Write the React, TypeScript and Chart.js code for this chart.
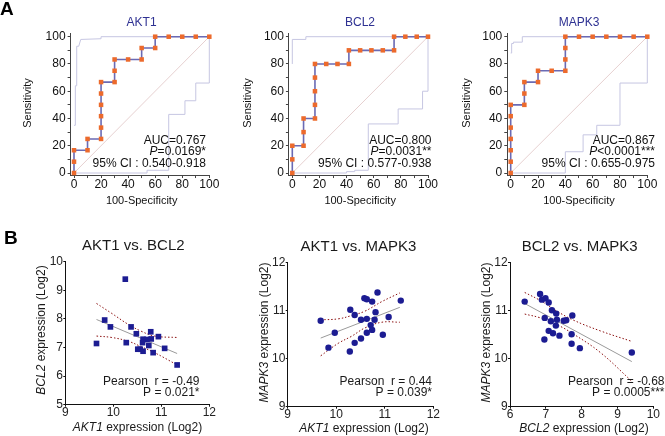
import React, { useEffect, useRef } from "react";
import { Chart, registerables } from "chart.js";

Chart.register(...registerables);

const FONT = '"Liberation Sans", Arial, sans-serif';

// ---------------- ROC data (100-Specificity, Sensitivity) ----------------
const ROC_TICKS = [0, 10, 20, 30, 40, 50, 60, 70, 80, 90, 100];
const DIAG_X = [0, 100];
const DIAG_Y = [0, 100];

const AKT1_ROC_X = [0, 0, 0, 10, 10, 20, 20, 20, 20, 20, 20, 30, 30, 30, 40, 50, 50, 60, 60, 70, 80, 90, 100];
const AKT1_ROC_Y = [0, 8.3, 16.7, 16.7, 25, 25, 33.3, 41.7, 50, 58.3, 66.7, 66.7, 75, 83.3, 83.3, 83.3, 91.7, 91.7, 100, 100, 100, 100, 100];
const AKT1_UP_X = [0, 1, 1, 2, 2, 3.5, 5, 20, 20, 100];
const AKT1_UP_Y = [35, 35, 64, 64, 93, 93, 98, 98.5, 100, 100];
const AKT1_LO_X = [0, 54, 54, 70, 70, 82, 82, 90, 90, 100, 100];
const AKT1_LO_Y = [0, 0, 2, 2, 43, 43, 53, 53, 66, 66, 100];

const BCL2_ROC_X = [0, 0, 0, 8.3, 8.3, 8.3, 16.7, 16.7, 16.7, 16.7, 16.7, 25, 33.3, 41.7, 41.7, 50, 58.3, 66.7, 75, 75, 83.3, 91.7, 100];
const BCL2_ROC_Y = [0, 10, 20, 20, 30, 40, 40, 50, 60, 70, 80, 80, 80, 80, 90, 90, 90, 90, 90, 100, 100, 100, 100];
const BCL2_UP_X = [0, 0, 10, 10, 100];
const BCL2_UP_Y = [80, 98, 98, 100, 100];
const BCL2_LO_X = [0, 40, 40, 46, 46, 56, 56, 78, 78, 96, 96, 100, 100];
const BCL2_LO_Y = [0, 0, 1, 1, 2, 2, 36, 36, 47, 47, 60, 60, 100];

const MAPK3_ROC_X = [0, 0, 0, 0, 0, 0, 0, 10, 10, 10, 20, 20, 30, 40, 40, 40, 40, 50, 60, 70, 80, 90, 100];
const MAPK3_ROC_Y = [0, 8.3, 16.7, 25, 33.3, 41.7, 50, 50, 58.3, 66.7, 66.7, 75, 75, 75, 83.3, 91.7, 100, 100, 100, 100, 100, 100, 100];
const MAPK3_UP_X = [0, 0.7, 0.7, 2, 2, 8.5, 8.5, 100];
const MAPK3_UP_Y = [88, 88, 95, 95, 96, 96, 100, 100];
const MAPK3_LO_X = [0, 40, 40, 53, 53, 63, 63, 80, 80, 100, 100];
const MAPK3_LO_Y = [0, 0, 15.6, 15.6, 28, 28, 35, 35, 66, 66, 100];

// ---------------- Correlation data ----------------
const B1_AKT1 = [10.25, 9.82, 9.94, 9.65, 10.27, 10.37, 10.48, 10.62, 10.70, 10.79, 10.78, 10.94, 10.61, 10.74, 10.51, 10.56, 10.62, 10.83, 11.07, 11.33];
const B1_BCL2 = [9.39, 7.96, 7.72, 7.14, 7.17, 7.72, 7.48, 7.29, 7.28, 7.30, 7.55, 7.38, 7.17, 7.07, 6.94, 6.94, 6.87, 6.82, 6.97, 6.39];
const B1_FIT_X = [9.65, 11.33];
const B1_FIT_Y = [7.98, 6.79];
const B1_CI_X = [9.65, 9.97, 10.31, 10.58, 10.86, 11.33];
const B1_CI_UP = [8.54, 8.19, 7.81, 7.57, 7.40, 7.35];
const B1_CI_LO = [7.40, 7.35, 7.22, 7.03, 6.82, 6.39];

const B2_AKT1 = [9.68, 9.97, 9.84, 10.28, 10.29, 10.38, 10.38, 10.51, 10.51, 10.58, 10.63, 10.63, 10.63, 10.74, 10.71, 10.74, 10.81, 10.79, 10.85, 10.96, 11.08, 11.33];
const B2_MAPK3 = [10.79, 10.54, 10.23, 10.15, 11.02, 10.91, 10.33, 10.42, 10.81, 11.26, 11.24, 10.83, 10.54, 11.19, 10.70, 10.60, 10.97, 10.81, 11.38, 10.50, 10.87, 11.21];
const B2_FIT_X = [9.68, 11.31];
const B2_FIT_Y = [10.43, 11.07];
const B2_CI_X = [9.68, 10.04, 10.32, 10.59, 10.94, 11.31];
const B2_CI_UP = [10.81, 10.83, 10.90, 10.99, 11.19, 11.37];
const B2_CI_LO = [10.06, 10.32, 10.47, 10.64, 10.76, 10.76];

const B3_BCL2 = [6.41, 6.84, 6.89, 6.99, 7.08, 7.17, 7.29, 6.97, 7.14, 7.31, 7.28, 7.50, 7.57, 7.74, 7.08, 7.20, 7.38, 6.96, 7.72, 7.72, 7.95, 9.40];
const B3_MAPK3 = [11.19, 11.35, 11.23, 11.26, 11.17, 11.01, 10.94, 10.85, 10.78, 10.81, 10.69, 10.79, 10.80, 10.90, 10.58, 10.53, 10.48, 10.40, 10.51, 10.31, 10.22, 10.13];
const B3_FIT_X = [6.41, 9.40];
const B3_FIT_Y = [11.15, 9.94];
const B3_CI_X = [6.41, 6.85, 7.31, 7.78, 8.52, 9.40];
const B3_CI_UP = [11.38, 11.21, 10.99, 10.80, 10.58, 10.36];
const B3_CI_LO = [10.93, 10.85, 10.71, 10.51, 10.13, 9.53];

// ---------------- helpers ----------------
type Seg = { t: string; i?: boolean };
type TItem = { segs: Seg[]; x: number; y: number; align?: "left" | "center" | "right"; size: number; bold?: boolean; color?: string; rot?: boolean };
type Box = { left: number; top: number; width: number; height: number };
type Area = { left: number; top: number; right: number; bottom: number };

const toXY = (xs: number[], ys: number[]) => xs.map((x, i) => ({ x, y: ys[i] }));

const textPlugin = {
  id: "panelText",
  afterDraw(chart: any, _a: any, opts: any) {
    const ctx = chart.ctx as CanvasRenderingContext2D;
    const items: TItem[] = opts.items || [];
    for (const it of items) {
      ctx.save();
      const font = (ital?: boolean) => `${ital ? "italic " : ""}${it.bold ? "bold " : ""}${it.size}px ${FONT}`;
      let total = 0;
      const widths = it.segs.map((s) => {
        ctx.font = font(s.i);
        const w = ctx.measureText(s.t).width;
        total += w;
        return w;
      });
      ctx.translate(it.x - opts.ox, it.y - opts.oy);
      if (it.rot) ctx.rotate(-Math.PI / 2);
      let start = it.align === "left" ? 0 : it.align === "right" ? -total : -total / 2;
      ctx.textBaseline = "middle";
      ctx.textAlign = "left";
      ctx.fillStyle = it.color || "#111";
      it.segs.forEach((s, k) => {
        ctx.font = font(s.i);
        ctx.fillText(s.t, start, 0);
        start += widths[k];
      });
      ctx.restore();
    }
  },
};

function buildConfig(box: Box, area: Area, datasets: any[], xScale: any, yScale: any, texts: TItem[]) {
  const yW = area.left - box.left;
  const xH = box.top + box.height - area.bottom;
  return {
    type: "scatter" as const,
    data: { datasets },
    options: {
      animation: false as const,
      responsive: false,
      devicePixelRatio: 1,
      events: [] as any[],
      layout: {
        padding: {
          left: 0,
          top: area.top - box.top,
          right: box.left + box.width - area.right,
          bottom: 0,
        },
      },
      plugins: {
        legend: { display: false },
        tooltip: { enabled: false },
        panelText: { items: texts, ox: box.left, oy: box.top },
      },
      scales: {
        x: { ...xScale, afterFit: (s: any) => { s.height = xH; } },
        y: { ...yScale, afterFit: (s: any) => { s.width = yW; } },
      },
    },
    plugins: [textPlugin],
  };
}

// ---------------- ROC panels ----------------
const ROC_Y0 = 173;
const ROC_Y100 = 36.7;
const RX_MIN = -2.5;
const RY_MIN = -1.5;
const RY_MAX = 102.5;

function rocArea(x0: number, x100: number): Area {
  const ux = (x100 - x0) / 100;
  const uy = (ROC_Y0 - ROC_Y100) / 100;
  return { left: x0 + RX_MIN * ux, right: x100, top: ROC_Y100 - (RY_MAX - 100) * uy, bottom: ROC_Y0 - RY_MIN * uy };
}

function rocScale(min: number, max: number, pad: number) {
  return {
    type: "linear",
    min,
    max,
    bounds: "data",
    afterBuildTicks: (axis: any) => { axis.ticks = ROC_TICKS.map((v) => ({ value: v })); },
    ticks: {
      autoSkip: false,
      maxRotation: 0,
      padding: pad,
      color: "#111",
      font: { family: FONT, size: 12 },
      callback: (v: any) => (Number(v) % 20 === 0 ? String(v) : ""),
    },
    grid: { drawOnChartArea: false, drawTicks: true, tickLength: 3, color: "#444" },
    border: { display: true, color: "#444", width: 1 },
  };
}

function rocPanel(box: Box, x0: number, x100: number, title: string, rx: number[], ry: number[], ux: number[], uy: number[], lx: number[], ly: number[], auc: string, pSegs: Seg[], ci: string, titleX: number, sensX: number, annRight: number, extra: TItem[]) {
  const area = rocArea(x0, x100);
  const cx = (x0 + x100) / 2;
  const datasets = [
    { data: toXY(rx, ry), showLine: true, borderColor: "#6a6ab4", borderWidth: 1.6, pointStyle: "rect", pointRadius: 3.2, pointBackgroundColor: "#ec6a2c", pointBorderColor: "#ec6a2c", pointBorderWidth: 0, clip: false, order: 0 },
    { data: toXY(ux, uy), showLine: true, borderColor: "#c6c6e2", borderWidth: 1, pointRadius: 0, clip: false, order: 2 },
    { data: toXY(lx, ly), showLine: true, borderColor: "#c6c6e2", borderWidth: 1, pointRadius: 0, clip: false, order: 2 },
    { data: toXY(DIAG_X, DIAG_Y), showLine: true, borderColor: "#e6d0d0", borderWidth: 1, pointRadius: 0, clip: false, order: 3 },
  ];
  const texts: TItem[] = [
    ...extra,
    { segs: [{ t: title }], x: titleX, y: 22.5, size: 12, color: "#2e3192" },
    { segs: [{ t: "Sensitivity" }], x: sensX, y: 103, size: 11, rot: true },
    { segs: [{ t: "100-Specificity" }], x: cx, y: 201, size: 11 },
    { segs: [{ t: auc }], x: annRight, y: 140.5, size: 12, align: "right" },
    { segs: pSegs, x: annRight, y: 152, size: 12, align: "right" },
    { segs: [{ t: ci }], x: annRight, y: 164, size: 12, align: "right" },
  ];
  return { box, config: () => buildConfig(box, area, datasets, rocScale(RX_MIN, 100, -0.7), rocScale(RY_MIN, RY_MAX, 2), texts) };
}

// ---------------- correlation panels ----------------
function scatScale(min: number, max: number, pad: number) {
  return {
    type: "linear",
    min,
    max,
    bounds: "data",
    ticks: { stepSize: 1, autoSkip: false, maxRotation: 0, padding: pad, color: "#222", font: { family: FONT, size: 12 } },
    grid: { drawOnChartArea: false, drawTicks: true, tickLength: 2, color: "#111" },
    border: { display: true, color: "#111", width: 1 },
  };
}

function corrPanel(box: Box, area: Area, xr: [number, number], yr: [number, number], px: number[], py: number[], shape: string, fx: number[], fy: number[], cx: number[], cu: number[], cl: number[], texts: TItem[]) {
  const datasets = [
    { data: toXY(px, py), pointStyle: shape, pointRadius: shape === "rect" ? 4 : 3.2, pointBackgroundColor: "#1c1c92", pointBorderColor: "#1c1c92", pointBorderWidth: 0, clip: false, order: 0 },
    { data: toXY(fx, fy), showLine: true, borderColor: "#9a9a9a", borderWidth: 1, pointRadius: 0, clip: false, order: 2 },
    { data: toXY(cx, cu), showLine: true, tension: 0.4, borderColor: "#8b1010", borderWidth: 1, borderDash: [1.5, 2], pointRadius: 0, clip: false, order: 1 },
    { data: toXY(cx, cl), showLine: true, tension: 0.4, borderColor: "#8b1010", borderWidth: 1, borderDash: [1.5, 2], pointRadius: 0, clip: false, order: 1 },
  ];
  return { box, config: () => buildConfig(box, area, datasets, scatScale(xr[0], xr[1], -0.9), scatScale(yr[0], yr[1], 0.3), texts) };
}

const BOX_A1: Box = { left: 0, top: 0, width: 222, height: 212 };
const BOX_A2: Box = { left: 222, top: 0, width: 220, height: 212 };
const BOX_A3: Box = { left: 442, top: 0, width: 223, height: 212 };
const BOX_B1: Box = { left: 0, top: 212, width: 222, height: 224 };
const BOX_B2: Box = { left: 222, top: 212, width: 220, height: 224 };
const BOX_B3: Box = { left: 442, top: 212, width: 223, height: 224 };

function buildPanels() {
  return [
    rocPanel(BOX_A1, 74, 209.3, "AKT1", AKT1_ROC_X, AKT1_ROC_Y, AKT1_UP_X, AKT1_UP_Y, AKT1_LO_X, AKT1_LO_Y,
      "AUC=0.767", [{ t: "P", i: true }, { t: "=0.0169*" }], "95% CI : 0.540-0.918", 141.6, 27.8, 206,
      [{ segs: [{ t: "A" }], x: 0, y: 10, size: 19, bold: true, align: "left", color: "#000" }]),
    rocPanel(BOX_A2, 292.3, 428, "BCL2", BCL2_ROC_X, BCL2_ROC_Y, BCL2_UP_X, BCL2_UP_Y, BCL2_LO_X, BCL2_LO_Y,
      "AUC=0.800", [{ t: "P", i: true }, { t: "=0.0031**" }], "95% CI : 0.577-0.938", 360, 247.5, 431.5, []),
    rocPanel(BOX_A3, 510.7, 647.3, "MAPK3", MAPK3_ROC_X, MAPK3_ROC_Y, MAPK3_UP_X, MAPK3_UP_Y, MAPK3_LO_X, MAPK3_LO_Y,
      "AUC=0.867", [{ t: "P", i: true }, { t: "<0.0001***" }], "95% CI : 0.655-0.975", 579, 466.5, 655, []),
    corrPanel(BOX_B1, { left: 65.3, top: 261.7, right: 209.3, bottom: 404.7 }, [9, 12], [5, 10], B1_AKT1, B1_BCL2, "rect",
      B1_FIT_X, B1_FIT_Y, B1_CI_X, B1_CI_UP, B1_CI_LO, [
        { segs: [{ t: "B" }], x: 4, y: 238.5, size: 19, bold: true, align: "left", color: "#000" },
        { segs: [{ t: "AKT1 vs. BCL2" }], x: 133.3, y: 245.7, size: 15, color: "#1a1a1a" },
        { segs: [{ t: "BCL2", i: true }, { t: " expression (Log2)" }], x: 42, y: 330, size: 12, rot: true, color: "#1a1a1a" },
        { segs: [{ t: "AKT1", i: true }, { t: " expression (Log2)" }], x: 137.5, y: 428, size: 12, color: "#1a1a1a" },
        { segs: [{ t: "Pearson  r = -0.49" }], x: 199.5, y: 381.7, size: 12, align: "right", color: "#1a1a1a" },
        { segs: [{ t: "P = 0.021*" }], x: 199.5, y: 392.3, size: 12, align: "right", color: "#1a1a1a" },
      ]),
    corrPanel(BOX_B2, { left: 287.7, top: 262.7, right: 433.3, bottom: 406.7 }, [9, 12], [9, 12], B2_AKT1, B2_MAPK3, "circle",
      B2_FIT_X, B2_FIT_Y, B2_CI_X, B2_CI_UP, B2_CI_LO, [
        { segs: [{ t: "AKT1 vs. MAPK3" }], x: 358.5, y: 247, size: 15, color: "#1a1a1a" },
        { segs: [{ t: "MAPK3", i: true }, { t: " expression (Log2)" }], x: 265, y: 332.5, size: 12, rot: true, color: "#1a1a1a" },
        { segs: [{ t: "AKT1", i: true }, { t: " expression (Log2)" }], x: 364, y: 429, size: 12, color: "#1a1a1a" },
        { segs: [{ t: "Pearson  r = 0.44" }], x: 432, y: 381.7, size: 12, align: "right", color: "#1a1a1a" },
        { segs: [{ t: "P = 0.039*" }], x: 432, y: 392.5, size: 12, align: "right", color: "#1a1a1a" },
      ]),
    corrPanel(BOX_B3, { left: 510, top: 262.7, right: 653.3, bottom: 406.7 }, [6, 10], [9, 12], B3_BCL2, B3_MAPK3, "circle",
      B3_FIT_X, B3_FIT_Y, B3_CI_X, B3_CI_UP, B3_CI_LO, [
        { segs: [{ t: "BCL2 vs. MAPK3" }], x: 579.7, y: 247, size: 15, color: "#1a1a1a" },
        { segs: [{ t: "MAPK3", i: true }, { t: " expression (Log2)" }], x: 487, y: 332.5, size: 12, rot: true, color: "#1a1a1a" },
        { segs: [{ t: "BCL2", i: true }, { t: " expression (Log2)" }], x: 584, y: 429, size: 12, color: "#1a1a1a" },
        { segs: [{ t: "Pearson  r = -0.68" }], x: 664.5, y: 382, size: 12, align: "right", color: "#1a1a1a" },
        { segs: [{ t: "P = 0.0005***" }], x: 664.5, y: 392.5, size: 12, align: "right", color: "#1a1a1a" },
      ]),
  ];
}

const PANEL_BOXES = [BOX_A1, BOX_A2, BOX_A3, BOX_B1, BOX_B2, BOX_B3];

export default function App() {
  const refs = useRef<(HTMLCanvasElement | null)[]>([]);
  useEffect(() => {
    const panels = buildPanels();
    const charts = panels.map((p, i) => new Chart(refs.current[i] as HTMLCanvasElement, p.config() as any));
    return () => charts.forEach((c) => c.destroy());
  }, []);
  return (
    <div style={{ position: "absolute", left: 0, top: 0, width: 665, height: 436, background: "#fff" }}>
      {PANEL_BOXES.map((b, i) => (
        <canvas
          key={i}
          ref={(el) => { refs.current[i] = el; }}
          width={b.width}
          height={b.height}
          style={{ position: "absolute", left: b.left, top: b.top, width: b.width, height: b.height }}
        />
      ))}
    </div>
  );
}
